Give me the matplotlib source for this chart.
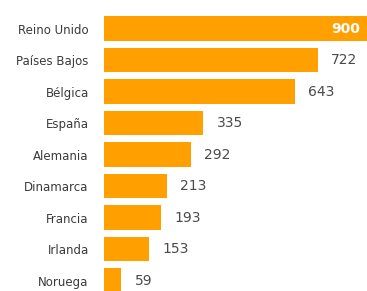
import matplotlib
matplotlib.use("Agg")
import matplotlib.pyplot as plt

countries = ["Reino Unido", "Países Bajos", "Bélgica", "España", "Alemania",
             "Dinamarca", "Francia", "Irlanda", "Noruega"]
values = [900, 722, 643, 335, 292, 213, 193, 153, 59]

plt.rcParams['font.family'] = ['DejaVu Sans']

fig = plt.figure(figsize=(3.67, 2.91), dpi=100)
ax = fig.add_axes([104/367, 0, 1 - 104/367, 1])
ypos = list(range(len(countries)))
ax.barh(ypos, values, height=0.79, color="#FFA000")
ax.set_xlim(0, 887)
ax.set_ylim(8.333, -0.905)
for s in ax.spines.values():
    s.set_visible(False)
ax.set_xticks([])
ax.set_yticks(ypos)
ax.set_yticklabels(countries, fontsize=8.5, color="#3a3a3a")
ax.tick_params(axis="y", length=0, pad=11)

for i, v in enumerate(values):
    if i == 0:
        ax.annotate(str(v), (v, i), xytext=(-8, 0), textcoords="offset points",
                    ha="right", va="center", color="white", fontsize=10, fontweight="bold",
                    annotation_clip=False)
    else:
        ax.annotate(str(v), (v, i), xytext=(9.5, 0), textcoords="offset points",
                    ha="left", va="center", color="#4a4a4a", fontsize=10)

fig.savefig("out.png", dpi=100, facecolor="white")
